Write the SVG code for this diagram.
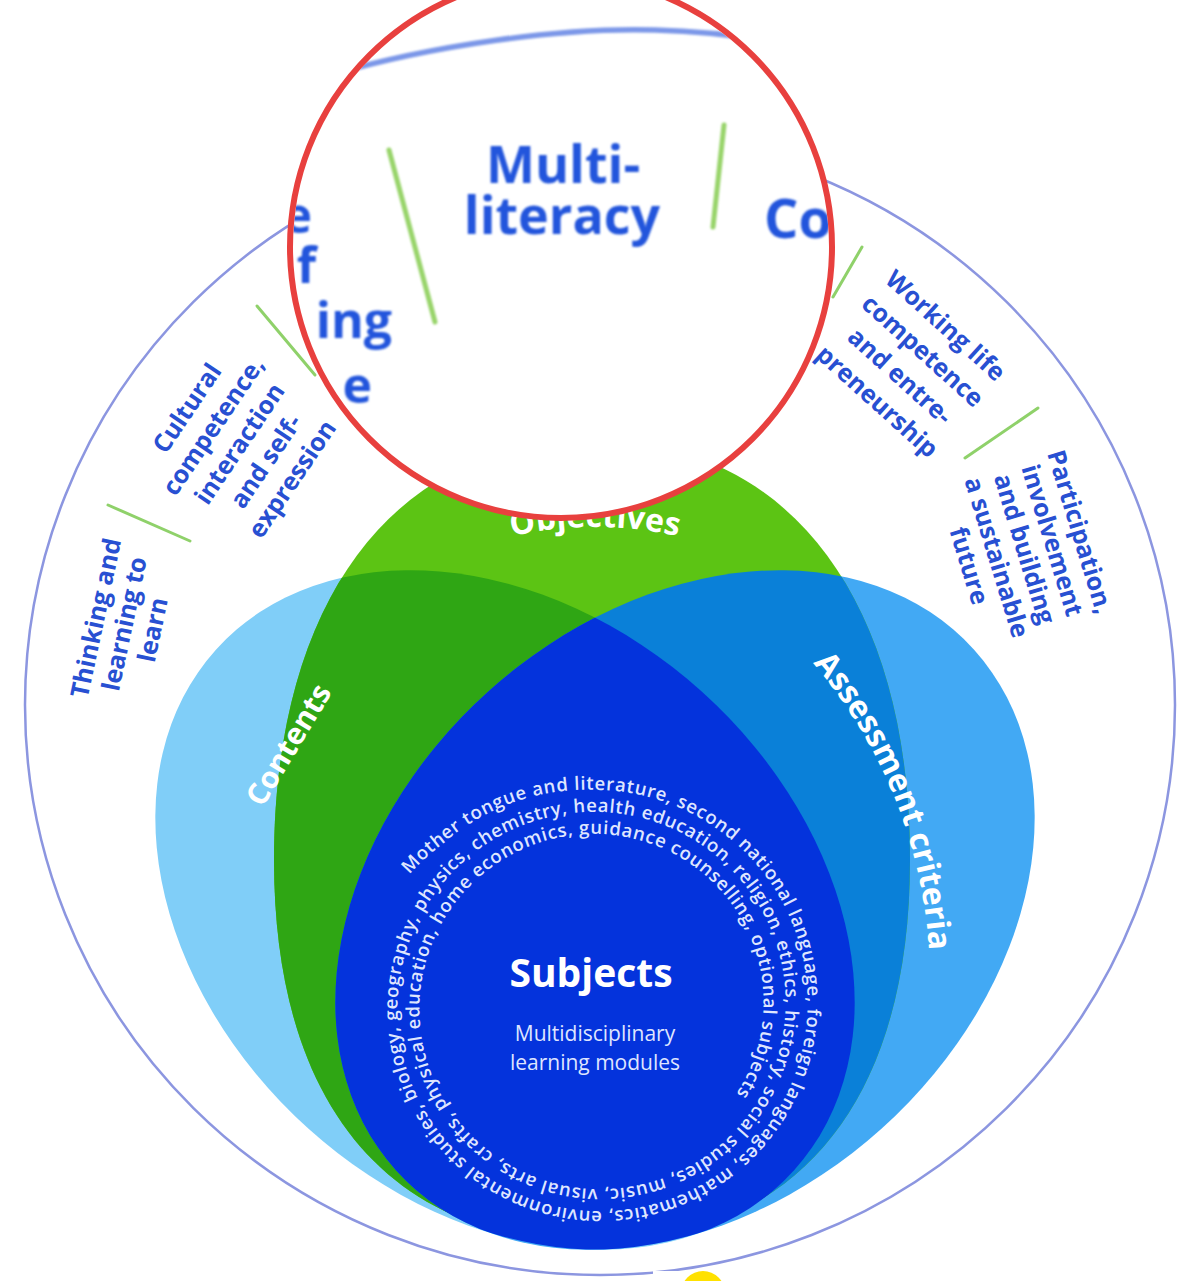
<svg xmlns="http://www.w3.org/2000/svg" width="1178" height="1281" viewBox="0 0 1178 1281">
<defs>
<style>
.comp{font-family:"Open Sans","DejaVu Sans",sans-serif;font-weight:700;font-size:25px;fill:#2850d2;text-anchor:middle}
.sep{stroke:#8fd16a;stroke-width:3;stroke-linecap:round}
.msep{stroke:#98d46a;stroke-width:5;stroke-linecap:round}
.vlabel{font-family:"Open Sans","DejaVu Sans",sans-serif;font-weight:700;fill:#ffffff;text-anchor:middle}
.mag{font-family:"Open Sans","DejaVu Sans",sans-serif;font-weight:700;fill:#2355dc}
.spiral{font-family:"Open Sans","DejaVu Sans",sans-serif;font-size:18.5px;font-weight:600;fill:#dfe6ff}
.sub{font-family:"Open Sans","DejaVu Sans",sans-serif;font-size:21px;fill:#dfe5ff;text-anchor:middle}
</style>
<clipPath id="clipO"><path d="M 592 440 C 789 440 910 600 910 860 C 910 1110 790 1242 592 1242 C 394 1242 274 1110 274 860 C 274 600 395 440 592 440 Z"/></clipPath>
<clipPath id="clipA"><ellipse cx="0" cy="0" rx="389" ry="294" transform="translate(685 910) rotate(-42)"/></clipPath>
<clipPath id="clipMag"><circle cx="561" cy="247" r="268"/></clipPath>
<filter id="blur" x="-10%" y="-10%" width="120%" height="120%"><feGaussianBlur stdDeviation="1.1"/></filter>
<path id="spiralPath" d="M 409.41 874.65 A 226.5 226.5 0 0 1 441.40 844.87 A 220 220 0 0 1 600.77 790.03 A 214.6 214.6 0 0 1 750.40 857.86 A 211.9 211.9 0 0 1 807.47 1009.67 A 209.1 209.1 0 0 1 741.32 1155.44 A 206.4 206.4 0 0 1 593.42 1210.97 A 203.6 203.6 0 0 1 451.51 1146.49 A 200.9 200.9 0 0 1 397.53 1002.52 A 198.1 198.1 0 0 1 460.32 864.47 A 195.4 195.4 0 0 1 600.39 812.03 A 192.6 192.6 0 0 1 734.57 873.15 A 189.9 189.9 0 0 1 785.47 1009.29 A 187.1 187.1 0 0 1 726.03 1139.62 A 184.4 184.4 0 0 1 593.81 1188.97 A 181.6 181.6 0 0 1 467.34 1131.21 A 178.9 178.9 0 0 1 419.53 1002.90 A 176.1 176.1 0 0 1 475.61 880.30 A 173.4 173.4 0 0 1 600.00 834.03 A 170.6 170.6 0 0 1 718.75 888.43 A 167.9 167.9 0 0 1 763.48 1008.91 A 165.1 165.1 0 0 1 710.75 1123.79"/>
<path id="arcObj" d="M 437.4 561.9 A 373 373 0 0 1 752.6 561.9"/>
<path id="arcAss" d="M 804.1 653.1 A 490 490 0 0 1 929.7 963.9"/>
</defs>

<rect x="0" y="0" width="1178" height="1281" fill="#ffffff"/>

<g id="outer-ring">
<ellipse cx="600" cy="705" rx="575" ry="570" fill="none" stroke="#8c96e0" stroke-width="2.5"/>
</g>

<g id="separators">
<line class="sep" x1="108" y1="505" x2="190" y2="541"/>
<line class="sep" x1="257" y1="306" x2="315" y2="375"/>
<line class="sep" x1="862" y1="247" x2="833" y2="297"/>
<line class="sep" x1="1038" y1="408" x2="965" y2="458"/>
</g>

<g id="competence-thinking">
<text class="comp" transform="translate(125 624) rotate(-78)"><tspan x="0" y="-21">Thinking and</tspan><tspan x="0" y="8">learning to</tspan><tspan x="0" y="37">learn</tspan></text>
</g>
<g id="competence-cultural">
<text class="comp" transform="translate(240 444) rotate(-56)"><tspan x="0" y="-55.4">Cultural</tspan><tspan x="0" y="-23.7">competence,</tspan><tspan x="0" y="8">interaction</tspan><tspan x="0" y="39.7">and self-</tspan><tspan x="0" y="71.4">expression</tspan></text>
</g>
<g id="competence-working">
<text class="comp" transform="translate(911 364) rotate(42)"><tspan x="0" y="-43">Working life</tspan><tspan x="0" y="-9">competence</tspan><tspan x="0" y="25">and entre-</tspan><tspan x="0" y="59">preneurship</tspan></text>
</g>
<g id="competence-participation">
<text class="comp" transform="translate(1024 549) rotate(73)"><tspan x="0" y="-50">Participation,</tspan><tspan x="0" y="-21">involvement</tspan><tspan x="0" y="8">and building</tspan><tspan x="0" y="37">a sustainable</tspan><tspan x="0" y="66">future</tspan></text>
</g>

<g id="venn">
<g id="contents"><ellipse cx="0" cy="0" rx="389" ry="294" transform="translate(505 910) rotate(42)" fill="#80cef8"/></g>
<g id="assessment"><ellipse cx="0" cy="0" rx="389" ry="294" transform="translate(685 910) rotate(-42)" fill="#42a9f4"/></g>
<g id="objectives"><path d="M 592 440 C 789 440 910 600 910 860 C 910 1110 790 1242 592 1242 C 394 1242 274 1110 274 860 C 274 600 395 440 592 440 Z" fill="#5cc414"/></g>
<g id="overlaps">
<g clip-path="url(#clipO)"><ellipse cx="0" cy="0" rx="389" ry="294" transform="translate(505 910) rotate(42)" fill="#2fa614"/></g>
<g clip-path="url(#clipO)"><ellipse cx="0" cy="0" rx="389" ry="294" transform="translate(685 910) rotate(-42)" fill="#0a80d8"/></g>
<g clip-path="url(#clipA)"><ellipse cx="0" cy="0" rx="389" ry="294" transform="translate(505 910) rotate(42)" fill="#0433dc"/></g>
</g>
<g id="venn-labels">
<text class="vlabel" font-size="32"><textPath href="#arcObj" startOffset="50%">Objectives</textPath></text>
<text class="vlabel" font-size="30" transform="translate(289 745) rotate(-59)" x="0" y="10">Contents</text>
<text class="vlabel" font-size="32"><textPath href="#arcAss" startOffset="50%">Assessment criteria</textPath></text>
</g>
<g id="subjects">
<text class="vlabel" x="591" y="987" font-size="39">Subjects</text>
<text class="sub" x="595" y="1041">Multidisciplinary</text>
<text class="sub" x="595" y="1070">learning modules</text>
<text class="spiral"><textPath href="#spiralPath" textLength="3010" lengthAdjust="spacing">Mother tongue and literature, second national language, foreign languages, mathematics, environmental studies, biology, geography, physics, chemistry, health education, religion, ethics, history, social studies, music, visual arts, crafts, physical education, home economics, guidance counselling, optional subjects</textPath></text>
</g>
</g>

<g id="magnifier">
<circle cx="561" cy="247" r="271" fill="#ffffff"/>
<g clip-path="url(#clipMag)">
<g filter="url(#blur)">
<path d="M 330 75 C 430 46 560 27 655 30 C 700 31 735 35 775 42" fill="none" stroke="#7b97e8" stroke-width="5.5"/>
<line class="msep" x1="389" y1="150" x2="435" y2="322"/>
<line class="msep" x1="724" y1="125" x2="713" y2="227"/>
<text class="mag" font-size="52" text-anchor="middle"><tspan x="563" y="183">Multi-</tspan><tspan x="562" y="234">literacy</tspan></text>
<text class="mag" font-size="54" x="764" y="238">Co</text>
<text class="mag" font-size="50" text-anchor="end" x="312" y="233">e</text>
<text class="mag" font-size="50" text-anchor="end" x="316" y="283">f</text>
<text class="mag" font-size="50" text-anchor="end" x="392" y="338">ing</text>
<text class="mag" font-size="50" text-anchor="end" x="372" y="403">e</text>
</g>
</g>
<circle cx="561" cy="247" r="271" fill="none" stroke="#e8403e" stroke-width="6"/>
</g>

<g id="bottom-mark">
<rect x="653" y="1271" width="200" height="10" fill="#ffffff"/>
<circle cx="703" cy="1293" r="22" fill="#ffe100"/>
</g>
</svg>
